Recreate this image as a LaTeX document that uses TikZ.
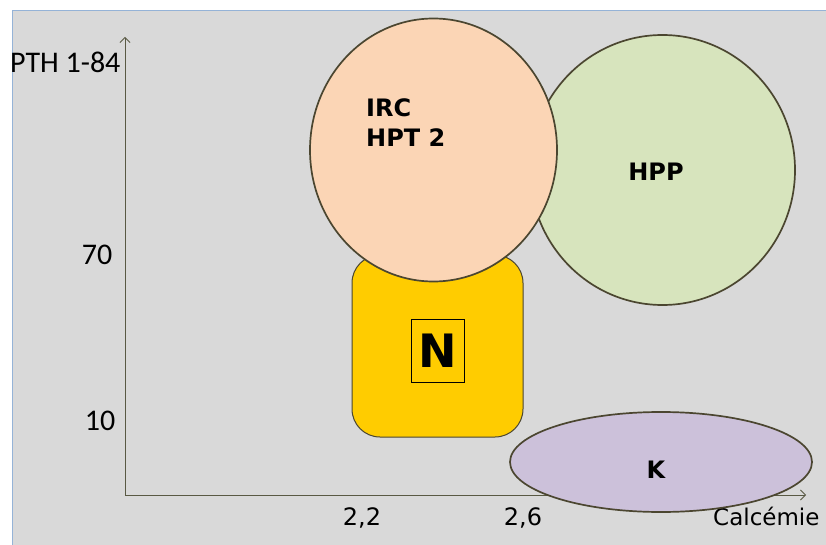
\documentclass[tikz,border=0pt]{standalone}
\usepackage{fontspec}
\setmainfont{Carlito}
\newfontfamily\comicfont{DejaVu Sans}
\usetikzlibrary{shapes.geometric,arrows.meta}

\definecolor{panelgray}{HTML}{D9D9D9}
\definecolor{panelblue}{HTML}{95B3D7}
\definecolor{axisgray}{HTML}{595943}
\definecolor{edgedark}{HTML}{4B4630}
\definecolor{peach}{HTML}{FBD5B5}
\definecolor{sage}{HTML}{D7E4BD}
\definecolor{gold}{HTML}{FFCC00}
\definecolor{lavender}{HTML}{CCC1DA}

\tikzset{
  zone/.style={ellipse, draw=edgedark, line width=1.7pt, inner sep=0pt},
  normbox/.style={rectangle, rounded corners=28pt, draw=edgedark, line width=1pt,
    fill=gold, inner sep=0pt},
  axisline/.style={draw=axisgray, line width=0.9pt,
    -{Straight Barb[length=5pt,width=10pt,line width=0.8pt]}},
  axislabel/.style={font=\fontsize{30}{30}\selectfont, inner sep=0pt, text=black},
  ticklabel/.style={font=\comicfont\fontsize{24}{24}\selectfont, inner sep=0pt},
  zonelabel/.style={font=\comicfont\bfseries\fontsize{24}{24}\selectfont, inner sep=0pt},
}

\begin{document}
\begin{tikzpicture}[x=1pt, y=-1pt]
  \useasboundingbox (0,0) rectangle (826,545);

  % panel background
  \fill[panelgray] (12,10) rectangle (830,550);
  \draw[panelblue, line width=1.5pt] (12.5,550) -- (12.5,10.5) -- (830,10.5);

  % axes
  \coordinate (origin) at (125,495);
  \coordinate (ytip) at (125,37);
  \coordinate (xtip) at (806,495);
  \draw[axisline] (origin) -- (ytip);
  \draw[axisline] (origin) -- (xtip);

  % axis labels and ticks
  \node[axislabel, anchor=west] (pth) at (10,62) {PTH 1-84};
  \node[axislabel] (t70) at (97,255) {70};
  \node[axislabel] (t10) at (100,421) {10};
  \node[ticklabel] (t22) at (362,518) {2,2};
  \node[ticklabel] (t26) at (523,518) {2,6};
  \node[ticklabel, anchor=west, font=\comicfont\fontsize{23}{23}\selectfont] (calc) at (713,516) {Calcémie};

  % normal zone
  \node[normbox, minimum width=171pt, minimum height=182pt] (normal) at (437.5,346) {};
  \node[draw=black, line width=0.8pt, minimum width=53pt, minimum height=63pt, inner sep=0pt,
        font=\comicfont\bfseries\fontsize{46}{46}\selectfont] (nlabel) at (437.5,350.5) {N};

  % hyperparathyroid zones
  \node[zone, fill=sage, minimum width=265pt, minimum height=270pt] (hpp) at (662.5,170) {};
  \node[zone, fill=peach, minimum width=247pt, minimum height=263pt] (irc) at (433.5,150) {};

  % hypercalcaemia zone
  \node[zone, fill=lavender, minimum width=302pt, minimum height=100pt] (kzone) at (661,462) {};

  % zone labels
  \node[zonelabel, anchor=base west] (irclabel) at (366,117) {IRC};
  \node[zonelabel, anchor=base west] (hptlabel) at (366,147) {HPT 2};
  \node[zonelabel] (hpplabel) at (656,172) {HPP};
  \node[zonelabel] (klabel) at (656,470) {K};
\end{tikzpicture}
\end{document}
